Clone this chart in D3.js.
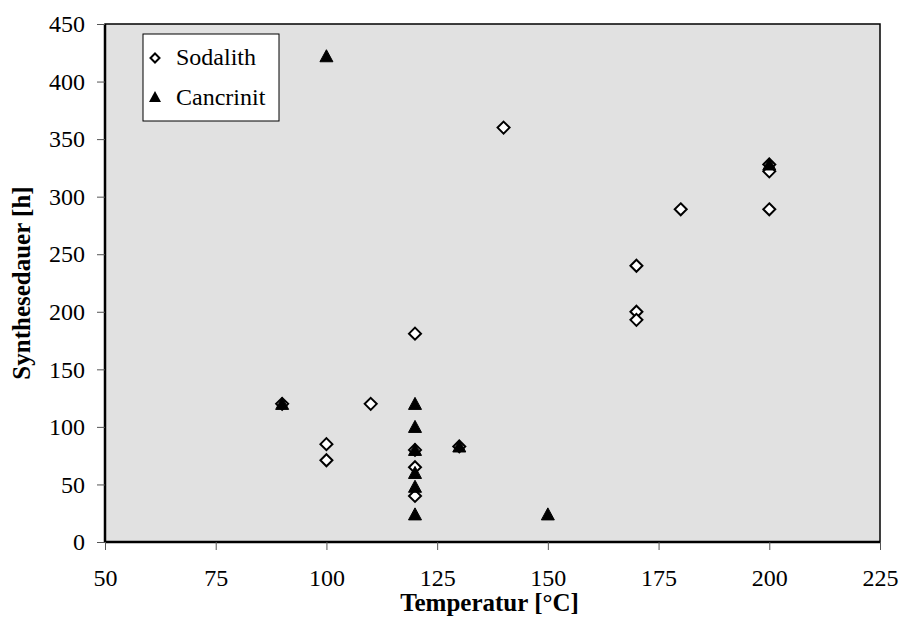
<!DOCTYPE html>
<html>
<head>
<meta charset="utf-8">
<script src="https://cdn.jsdelivr.net/npm/d3@7"></script>
<style>
  body { margin: 0; background: #fff; }
  svg text { font-family: 'Liberation Serif', 'Times New Roman', serif; fill: #000; }
</style>
</head>
<body>
<div id="chart"></div>
<script>
const W = 899;
const H = 641;
const margin = { t: 24, r: 19, b: 99, l: 105 };

// Sodalith (diamonds)
const sodalithT = [90, 100, 100, 110, 120, 120, 120, 120, 130, 140, 170, 170, 170, 180, 200, 200, 200];
const sodalithH = [120, 85, 71, 120, 181, 80, 65, 40, 83, 360, 240, 200, 193, 289, 328, 322, 289];

// Cancrinit (triangles)
const cancrinitT = [90, 100, 120, 120, 120, 120, 120, 120, 130, 150, 200];
const cancrinitH = [120, 422, 120, 100, 80, 60, 48, 24, 83, 24, 328];

const xTicks = [50, 75, 100, 125, 150, 175, 200, 225];
const yTicks = [0, 50, 100, 150, 200, 250, 300, 350, 400, 450];

const iw = W - margin.l - margin.r;
const ih = H - margin.t - margin.b;

const scaleX = d3.scaleLinear().domain([50, 225]).range([0, iw]);
const scaleY = d3.scaleLinear().domain([0, 450]).range([ih, 0]);

const svg = d3.select('#chart').append('svg')
  .attr('width', W)
  .attr('height', H);

const g = svg.append('g')
  .attr('transform', `translate(${margin.l}, ${margin.t})`);

// plot area
g.append('rect')
  .attr('width', iw)
  .attr('height', ih)
  .attr('fill', '#e1e1e1')
  .attr('stroke', '#000')
  .attr('stroke-width', 1.5);

// axes
const xAxis = d3.axisBottom(scaleX).tickValues(xTicks).tickSize(8).tickPadding(19);
const yAxis = d3.axisLeft(scaleY).tickValues(yTicks).tickSize(8).tickPadding(12);

const gx = g.append('g')
  .attr('transform', `translate(0, ${ih})`)
  .call(xAxis);
const gy = g.append('g').call(yAxis);

[gx, gy].forEach(a => {
  a.select('.domain').attr('stroke', '#000').attr('stroke-width', 2.5);
  a.selectAll('.tick line').attr('stroke', '#555').attr('stroke-width', 1);
  a.selectAll('.tick text')
    .style('font-family', "'Liberation Serif', serif")
    .style('font-size', '24px')
    .attr('fill', '#000');
});
gx.select('.domain').attr('d', `M0,0H${iw}`);
gy.select('.domain').attr('d', `M0,0V${ih}`);

// axis titles
svg.append('text')
  .attr('x', margin.l + iw / 2 - 3)
  .attr('y', 611)
  .attr('text-anchor', 'middle')
  .style('font-size', '25px')
  .style('font-weight', 'bold')
  .text('Temperatur [°C]');

svg.append('text')
  .attr('transform', `translate(30, ${margin.t + ih / 2}) rotate(-90)`)
  .attr('text-anchor', 'middle')
  .style('font-size', '25px')
  .style('font-weight', 'bold')
  .text('Synthesedauer [h]');

const diamond = (cx, cy, r) => `M${cx},${cy - r}L${cx + r},${cy}L${cx},${cy + r}L${cx - r},${cy}Z`;
const triangle = (cx, cy, r) => `M${cx},${cy - r}L${cx + r},${cy + r * 0.85}L${cx - r},${cy + r * 0.85}Z`;

const sodalith = sodalithT.map((t, i) => ({ t, h: sodalithH[i] }));
const cancrinit = cancrinitT.map((t, i) => ({ t, h: cancrinitH[i] }));

g.selectAll('.sod')
  .data(sodalith)
  .enter().append('path')
  .attr('class', 'sod')
  .attr('d', d => diamond(scaleX(d.t), scaleY(d.h), 6))
  .attr('fill', '#fff')
  .attr('stroke', '#000')
  .attr('stroke-width', 2);

g.selectAll('.can')
  .data(cancrinit)
  .enter().append('path')
  .attr('class', 'can')
  .attr('d', d => triangle(scaleX(d.t), scaleY(d.h), 6.5))
  .attr('fill', '#000')
  .attr('stroke', '#000')
  .attr('stroke-width', 1);

// legend
const legend = svg.append('g').attr('transform', 'translate(143, 34)');
legend.append('rect')
  .attr('width', 136)
  .attr('height', 87)
  .attr('fill', '#fff')
  .attr('stroke', '#000')
  .attr('stroke-width', 1);
legend.append('path')
  .attr('d', diamond(12, 24, 4.5))
  .attr('fill', '#fff')
  .attr('stroke', '#000')
  .attr('stroke-width', 2);
legend.append('path')
  .attr('d', triangle(12, 63, 6))
  .attr('fill', '#000');
legend.append('text')
  .attr('x', 33).attr('y', 31)
  .style('font-size', '24px')
  .text('Sodalith');
legend.append('text')
  .attr('x', 33).attr('y', 71)
  .style('font-size', '24px')
  .text('Cancrinit');
</script>
</body>
</html>
